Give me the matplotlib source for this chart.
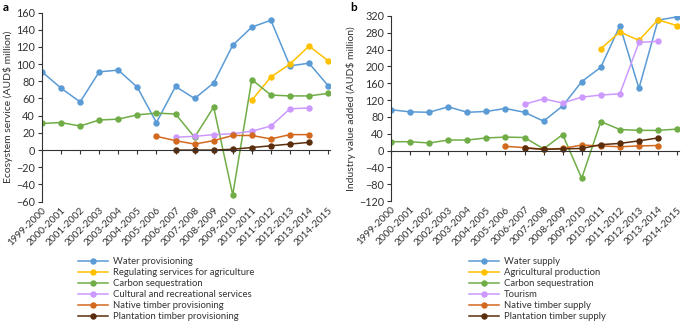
import numpy as np
import matplotlib
matplotlib.use('Agg')
import matplotlib.pyplot as plt

plt.rcParams['font.family'] = ['Lato', 'DejaVu Sans']

# years (x categories)
years = ['1999-2000', '2000-2001', '2001-2002', '2002-2003', '2003-2004',
         '2004-2005', '2005-2006', '2006-2007', '2007-2008', '2008-2009',
         '2009-2010', '2010-2011', '2011-2012', '2012-2013', '2013-2014',
         '2014-2015']
x = np.arange(len(years))
N = np.nan

# a) ecosystem services
a_water = [91, 72, 56, 91, 93, 73, 32, 74, 60, 78, 122, 143, 151, 98, 101, 75]
a_regul = [N, N, N, N, N, N, N, N, N, N, N, 58, 85, 100, 121, 104]
a_carbon = [31, 32, 28, 35, 36, 41, 43, 42, 15, 50, -52, 82, 64, 63, 63, 66]
a_cultural = [N, N, N, N, N, N, N, 15, 16, 18, 19, 22, 28, 48, 49, N]
a_native = [N, N, N, N, N, N, 16, 11, 7, 11, 17, 17, 13, 18, 18, N]
a_plant = [N, N, N, N, N, N, N, 0, 0, 0, 1, 3, 5, 7, 9, N]

# b) industry value added
b_water = [97, 92, 91, 104, 91, 93, 100, 91, 70, 106, 164, 198, 297, 148, 310, 318]
b_agri = [N, N, N, N, N, N, N, N, N, N, N, 242, 282, 262, 311, 297]
b_carbon = [21, 21, 18, 25, 25, 30, 32, 31, 4, 38, -66, 69, 50, 48, 48, 51]
b_tourism = [N, N, N, N, N, N, N, 110, 123, 113, 127, 132, 135, 257, 260, N]
b_native = [N, N, N, N, N, N, 10, 7, 3, 5, 13, 11, 9, 11, 12, N]
b_plant = [N, N, N, N, N, N, N, 6, 3, 4, 5, 14, 17, 23, 30, N]

colors = ['#5b9bd5', '#ffc000', '#70ad47', '#cc99ff', '#d2691e', '#5a2d0c']
labels_a = ['Water provisioning', 'Regulating services for agriculture',
            'Carbon sequestration', 'Cultural and recreational services',
            'Native timber provisioning', 'Plantation timber provisioning']
labels_b = ['Water supply', 'Agricultural production', 'Carbon sequestration',
            'Tourism', 'Native timber supply', 'Plantation timber supply']

txt = '#333333'
fig = plt.figure(figsize=(6.85, 3.27), dpi=100)
ax_a = fig.add_axes([42/685, 1-201.7/327, 288/685, 189.2/327])
ax_b = fig.add_axes([391/685, 1-201/327, 288/685, 185/327])


def draw(ax, series, labels, ylim, yticks, ylabel, tag, tag_x, leg_x):
    for s, c, l in zip(series, colors, labels):
        ax.plot(x, s, color=c, lw=1.1, marker='o', ms=3.6, label=l)
    ax.set_xlim(0, 15.1)
    ax.set_ylim(*ylim)
    ax.set_yticks(yticks)
    for sp in ['top', 'right']:
        ax.spines[sp].set_visible(False)
    ax.spines['left'].set_color(txt)
    ax.spines['left'].set_linewidth(0.8)
    ax.spines['bottom'].set_position(('data', 0))
    ax.spines['bottom'].set_color(txt)
    ax.spines['bottom'].set_linewidth(0.8)
    ax.set_xticks(x)
    ax.tick_params(axis='x', labelbottom=False, length=3, width=0.8, color=txt)
    ax.tick_params(axis='y', labelsize=7.8, labelcolor=txt, length=3,
                   width=0.8, color=txt, pad=2)
    sec = ax.secondary_xaxis('bottom')
    sec.spines['bottom'].set_visible(False)
    sec.set_xticks(x)
    sec.set_xticklabels(years, rotation=45, ha='right', rotation_mode='anchor')
    sec.tick_params(length=0, labelsize=7.2, labelcolor=txt, pad=3)
    ax.set_ylabel(ylabel, fontsize=7.5, color=txt, labelpad=2)
    fig.text(tag_x, 1-2/327, tag, fontsize=8.5, fontweight='bold',
             color='black', ha='left', va='top')
    h, l = ax.get_legend_handles_labels()
    fig.legend(h, l, loc='upper left', bbox_to_anchor=(leg_x, 1-257.5/327),
               frameon=False, fontsize=6.8, labelspacing=0.2,
               handlelength=3.2, handletextpad=0.53, borderaxespad=0,
               borderpad=0, labelcolor=txt)


draw(ax_a, [a_water, a_regul, a_carbon, a_cultural, a_native, a_plant],
     labels_a, (-60, 160), np.arange(-60, 161, 20),
     'Ecosystem service (AUD$ million)', 'a', 3/685, 78/685)
draw(ax_b, [b_water, b_agri, b_carbon, b_tourism, b_native, b_plant],
     labels_b, (-120, 320), np.arange(-120, 321, 40),
     'Industry value added (AUD$ million)', 'b', 350/685, 469/685)

fig.savefig('out.png', dpi=100)
